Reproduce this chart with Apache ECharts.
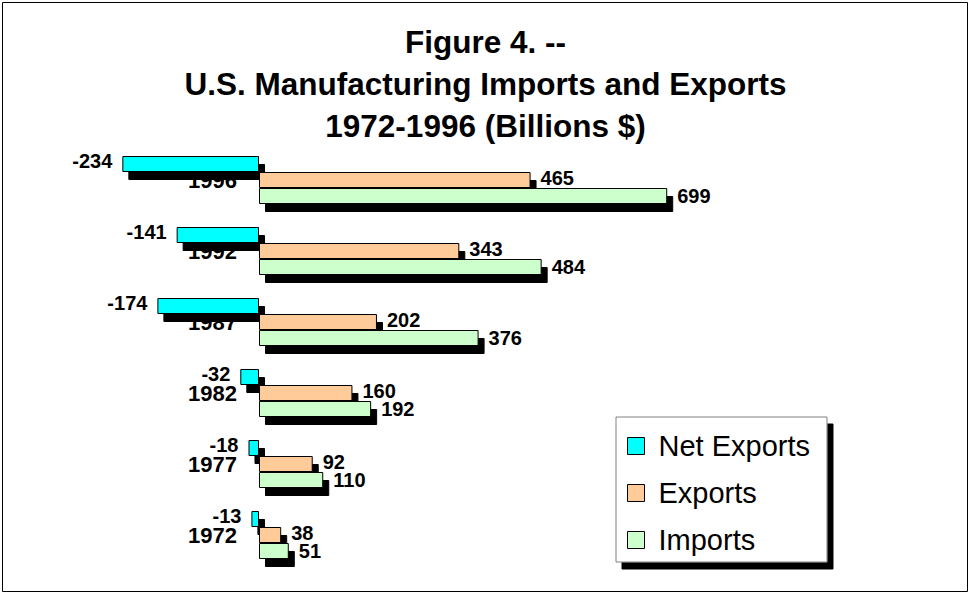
<!DOCTYPE html>
<html>
<head>
<meta charset="utf-8">
<script src="https://cdn.jsdelivr.net/npm/echarts@6/dist/echarts.min.js"></script>
<style>
html,body{margin:0;padding:0;background:#fff;}
#chart{width:971px;height:594px;}
</style>
</head>
<body>
<div id="chart"></div>
<script>
var years = ['1996', '1992', '1987', '1982', '1977', '1972'];
var netExports = [-234, -141, -174, -32, -18, -13];
var exportsVals = [465, 343, 202, 160, 92, 38];
var importsVals = [699, 484, 376, 192, 110, 51];
var seriesNames = ['Net Exports', 'Exports', 'Imports'];
var titleText = 'Figure 4. --\nU.S. Manufacturing Imports and Exports\n1972-1996 (Billions $)';

var FONT = '"Liberation Sans", Arial, sans-serif';
var chart = echarts.init(document.getElementById('chart'), null, {renderer: 'svg'});

var X_MIN = -250, X_MAX = 750;
var GRID_LEFT = 113, GRID_WIDTH = 584;

function barStyle(color) {
  return {
    color: color,
    borderColor: '#000',
    borderWidth: 1,
    shadowColor: '#000',
    shadowBlur: 0,
    shadowOffsetX: 6,
    shadowOffsetY: 8
  };
}
function labelStyle(pos, dy) {
  return {
    show: true,
    position: pos,
    distance: 10,
    offset: [0, dy],
    color: '#000',
    fontFamily: FONT,
    fontWeight: 'bold',
    fontSize: 20
  };
}

var option = {
  backgroundColor: '#fff',
  animation: false,
  title: {
    text: titleText,
    left: 'center',
    top: 21,
    padding: [0, 0, 0, 5],
    textStyle: {
      fontFamily: FONT,
      fontWeight: 'bold',
      fontSize: 31.5,
      lineHeight: 42,
      color: '#000'
    }
  },
  legend: {
    data: seriesNames,
    orient: 'vertical',
    left: 616,
    top: 417,
    padding: [14, 17, 7, 11],
    itemGap: 17,
    itemWidth: 17,
    itemHeight: 17,
    icon: 'rect',
    backgroundColor: '#fff',
    borderColor: '#808080',
    borderWidth: 1,
    shadowColor: '#000',
    shadowBlur: 0,
    shadowOffsetX: 6,
    shadowOffsetY: 7,
    itemStyle: {
      borderColor: '#000',
      borderWidth: 1,
      shadowColor: 'rgba(0,0,0,0)',
      shadowBlur: 0,
      shadowOffsetX: 0,
      shadowOffsetY: 0
    },
    textStyle: {
      fontFamily: FONT,
      fontSize: 29,
      lineHeight: 30,
      color: '#000',
      padding: [0, 0, 0, 9]
    }
  },
  grid: {
    left: GRID_LEFT,
    width: GRID_WIDTH,
    top: 144.5,
    height: 426,
    containLabel: false
  },
  xAxis: {
    type: 'value',
    min: X_MIN,
    max: X_MAX,
    show: false,
    splitLine: {show: false}
  },
  yAxis: {
    type: 'category',
    data: years,
    inverse: true,
    position: 'left',
    // place the category axis where the value axis crosses zero
    offset: -(GRID_WIDTH * (0 - X_MIN) / (X_MAX - X_MIN)),
    axisLine: {show: false, onZero: false},
    axisTick: {show: false},
    splitLine: {show: false},
    axisLabel: {
      margin: 22,
      color: '#000',
      fontFamily: FONT,
      fontWeight: 'bold',
      fontSize: 22
    }
  },
  series: [
    {
      name: seriesNames[0],
      type: 'bar',
      data: netExports,
      barWidth: 16,
      barGap: '0%',
      itemStyle: barStyle('#00FFFF'),
      label: labelStyle('left', -3)
    },
    {
      name: seriesNames[1],
      type: 'bar',
      data: exportsVals,
      barWidth: 16,
      barGap: '0%',
      itemStyle: barStyle('#FFCC99'),
      label: labelStyle('right', -2)
    },
    {
      name: seriesNames[2],
      type: 'bar',
      data: importsVals,
      barWidth: 16,
      barGap: '0%',
      itemStyle: barStyle('#CCFFCC'),
      label: labelStyle('right', 0)
    }
  ],
  graphic: [
    {
      type: 'rect',
      silent: true,
      z: -1,
      shape: {x: 2.5, y: 2.5, width: 965, height: 589},
      style: {fill: 'none', stroke: '#000', lineWidth: 1}
    }
  ]
};
chart.setOption(option);
</script>
</body>
</html>
